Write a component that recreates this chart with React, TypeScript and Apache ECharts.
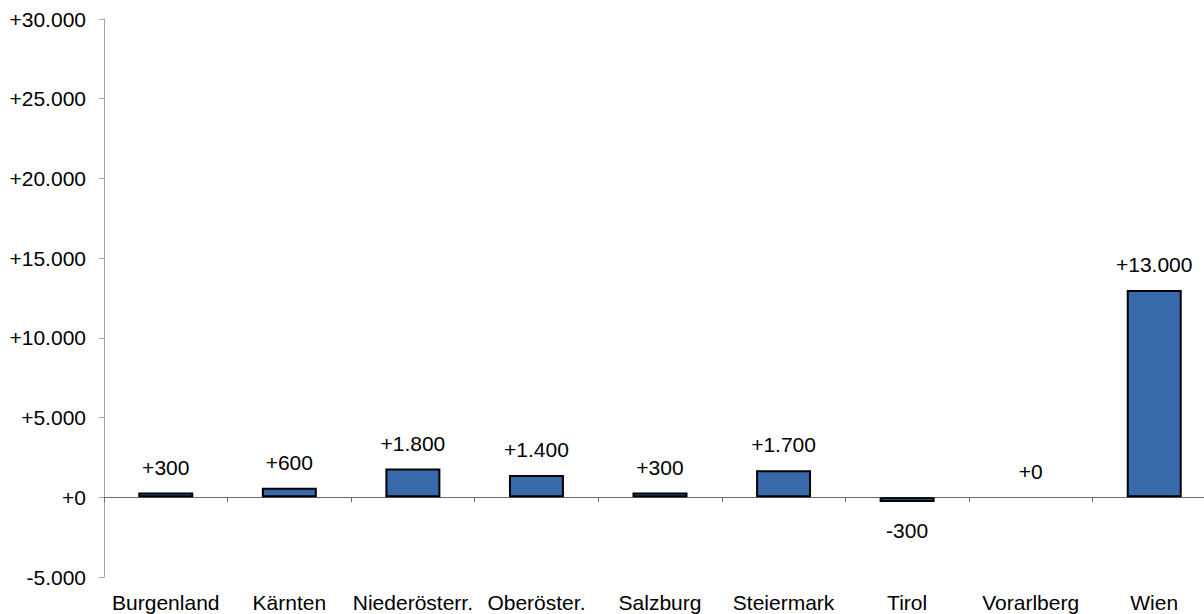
import React, { useEffect, useRef } from "react";
import * as echarts from "echarts";

const categories = [
  "Burgenland",
  "Kärnten",
  "Niederösterr.",
  "Oberöster.",
  "Salzburg",
  "Steiermark",
  "Tirol",
  "Vorarlberg",
  "Wien",
];
const values = [300, 600, 1800, 1400, 300, 1700, -300, 0, 13000];
const yMin = -5000;
const yMax = 30000;
const yInterval = 5000;

const fmt = (v: number) => {
  const abs = Math.abs(Math.round(v));
  const s = String(abs).replace(/\B(?=(\d{3})+(?!\d))/g, ".");
  return (v < 0 ? "-" : "+") + s;
};

const FONT = "'Liberation Sans', Arial, sans-serif";
const FS = 21;

export default function App() {
  const ref = useRef<HTMLDivElement>(null);
  useEffect(() => {
    document.body.style.margin = "0";
    document.body.style.overflow = "hidden";
    const chart = echarts.init(ref.current!, undefined, { renderer: "svg" });
    chart.setOption({
      animation: false,
      textStyle: { fontFamily: FONT },
      grid: { left: 104, right: 0, top: 19, bottom: 37, containLabel: false },
      xAxis: [
        {
          type: "category",
          data: categories,
          position: "bottom",
          axisLine: { onZero: true, lineStyle: { color: "#6b6b6b", width: 1 } },
          axisTick: { show: true, length: 5, lineStyle: { color: "#6b6b6b" } },
          axisLabel: { show: false },
          splitLine: { show: false },
        },
        {
          type: "category",
          data: categories,
          position: "bottom",
          axisLine: { show: false, onZero: false },
          axisTick: { show: false },
          axisLabel: {
            show: true,
            margin: 15,
            color: "#000",
            fontSize: FS,
            fontFamily: FONT,
            interval: 0,
          },
          splitLine: { show: false },
        },
      ],
      yAxis: {
        type: "value",
        min: yMin,
        max: yMax,
        interval: yInterval,
        axisLine: { show: true, lineStyle: { color: "#a6a6a6", width: 1 } },
        axisTick: { show: true, length: 5, lineStyle: { color: "#a6a6a6" } },
        splitLine: { show: false },
        axisLabel: {
          color: "#000",
          fontSize: FS,
          fontFamily: FONT,
          margin: 18,
          formatter: (v: number) => fmt(v),
        },
      },
      series: [
        {
          type: "bar",
          xAxisIndex: 0,
          barWidth: "44.5%",
          data: values.map((v) => ({
            value: v,
            itemStyle: { borderWidth: v === 0 ? 0 : 2 },
            label: { position: v < 0 ? "bottom" : "top", distance: v < 0 ? 18 : 15 },
          })),
          itemStyle: { color: "#3869ab", borderColor: "#000", borderWidth: 2 },
          label: {
            show: true,
            color: "#000",
            fontSize: FS,
            fontFamily: FONT,
            formatter: (p: any) => fmt(p.value),
          },
        },
      ],
    });
    return () => chart.dispose();
  }, []);
  return <div ref={ref} style={{ width: 1216, height: 614 }} />;
}
